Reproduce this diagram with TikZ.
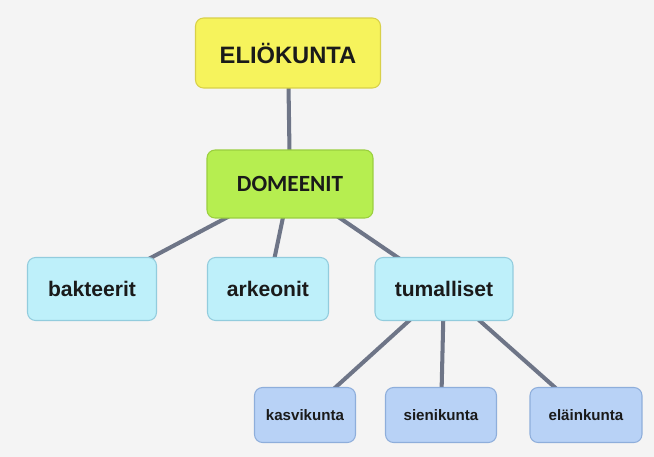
\documentclass[tikz,border=0pt]{standalone}
\usepackage{fontspec}
\setmainfont{Liberation Sans}
\newfontfamily\carlito{Carlito}
\usetikzlibrary{backgrounds}
\definecolor{bgc}{HTML}{F4F4F4}
\definecolor{yel}{HTML}{F6F35C}
\definecolor{yelb}{HTML}{D8D048}
\definecolor{grn}{HTML}{B6EE50}
\definecolor{grnb}{HTML}{9ACF3E}
\definecolor{cya}{HTML}{BEF0FA}
\definecolor{cyab}{HTML}{92CCDD}
\definecolor{blu}{HTML}{B8D2F6}
\definecolor{blub}{HTML}{8EAEDB}
\definecolor{linec}{HTML}{6E7587}
\definecolor{txt}{HTML}{1A1A1A}

\begin{document}
\begin{tikzpicture}[x=0.02cm,y=-0.02cm,
	box/.style={draw, line width=0.6pt, rounded corners=0.16cm, align=center, inner sep=0pt, text=txt},
	top/.style={box, fill=yel, draw=yelb, minimum width=3.7cm, minimum height=1.4cm, font=\bfseries\fontsize{13.5}{16}\selectfont},
	mid/.style={box, fill=grn, draw=grnb, minimum width=3.32cm, minimum height=1.36cm, font=\carlito\bfseries\fontsize{13.2}{15}\selectfont},
	sub/.style={box, fill=cya, draw=cyab, minimum height=1.26cm, font=\bfseries\fontsize{12}{14}\selectfont},
	leaf/.style={box, fill=blu, draw=blub, minimum height=1.1cm, font=\bfseries\fontsize{8.6}{10}\selectfont},
	link/.style={draw=linec, line width=2.3pt}]
	\useasboundingbox (0,0) rectangle (654,457);
%	\draw [help lines, step=50] (0,0) grid (654,457);
	\node [top] (elio) at (288,53) {ELIÖKUNTA};
	\node [mid] (dom) at (290,184) {DOMEENIT};
	\node [sub, minimum width=2.58cm] (bakt) at (92,289) {bakteerit};
	\node [sub, minimum width=2.42cm] (ark) at (268,289) {arkeonit};
	\node [sub, minimum width=2.76cm] (tuma) at (444,289) {tumalliset};
	\node [leaf, minimum width=2.02cm] (kasvi) at (305,415) {kasvikunta};
	\node [leaf, minimum width=2.22cm] (sieni) at (441,415) {sienikunta};
	\node [leaf, minimum width=2.24cm] (elain) at (586,415) {eläinkunta};
	\begin{scope}[on background layer]
		\fill [bgc] (0,0) rectangle (654,457);
		\draw [link] (elio.center) -- (dom.center);
		\draw [link] (dom.center) -- (bakt.center);
		\draw [link] (dom.center) -- (ark.center);
		\draw [link] (dom.center) -- (tuma.center);
		\draw [link] (tuma.center) -- (kasvi.center);
		\draw [link] (tuma.center) -- (sieni.center);
		\draw [link] (tuma.center) -- (elain.center);
	\end{scope}
\end{tikzpicture}
\end{document}
